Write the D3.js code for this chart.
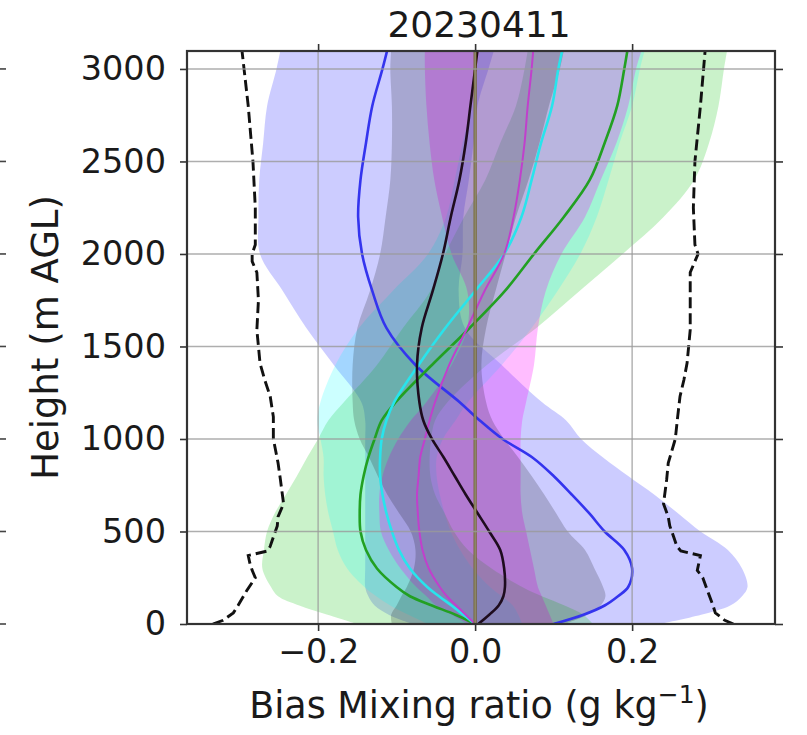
<!DOCTYPE html>
<html>
<head>
<meta charset="utf-8">
<script src="https://cdn.jsdelivr.net/npm/d3@7"></script>
<style>
  html, body { margin: 0; padding: 0; background: #ffffff; }
  svg { display: block; }
  text { font-family: "DejaVu Sans", sans-serif; fill: #1a1a1a; }
</style>
</head>
<body>
<svg id="chart" width="807" height="735"></svg>
<script>
// ---------------- data ----------------
const title = "20230411";
const xLabel = "Bias Mixing ratio (g kg";
const yLabel = "Height (m AGL)";
const xTicks = [-0.2, 0.0, 0.2];
const yTicks = [0, 500, 1000, 1500, 2000, 2500, 3000];

const heights = [0, 50, 100, 150, 200, 300, 400, 500, 600, 700, 800, 900, 1000, 1100, 1200, 1400, 1600, 1800, 2000, 2200, 2400, 2600, 2800, 3000, 3100];

const blueMean  = [0.100, 0.138, 0.165, 0.182, 0.195, 0.200, 0.190, 0.165, 0.145, 0.123, 0.100, 0.073, 0.035, 0.006, -0.020, -0.076, -0.113, -0.131, -0.144, -0.149, -0.146, -0.139, -0.131, -0.118, -0.112];
const blueLow   = [-0.080, -0.110, -0.128, -0.136, -0.140, -0.140, -0.140, -0.140, -0.140, -0.140, -0.140, -0.140, -0.140, -0.140, -0.145, -0.180, -0.215, -0.245, -0.274, -0.276, -0.275, -0.270, -0.265, -0.253, -0.248];
const blueHigh  = [0.235, 0.288, 0.325, 0.340, 0.347, 0.340, 0.322, 0.287, 0.258, 0.228, 0.195, 0.163, 0.135, 0.116, 0.085, 0.034, -0.013, -0.021, -0.016, -0.015, -0.008, -0.002, 0.003, 0.017, 0.024];

const greenMean = [0.000, -0.025, -0.055, -0.083, -0.100, -0.125, -0.139, -0.146, -0.147, -0.146, -0.142, -0.136, -0.128, -0.119, -0.101, -0.055, -0.007, 0.038, 0.075, 0.113, 0.146, 0.165, 0.181, 0.190, 0.194];
const greenStd  = [0.150, 0.163, 0.169, 0.168, 0.160, 0.146, 0.130, 0.119, 0.108, 0.095, 0.085, 0.078, 0.072, 0.068, 0.066, 0.070, 0.085, 0.095, 0.113, 0.127, 0.133, 0.133, 0.129, 0.127, 0.127];

const cyanMean  = [0.000, -0.015, -0.030, -0.046, -0.061, -0.083, -0.097, -0.106, -0.113, -0.118, -0.121, -0.121, -0.119, -0.113, -0.103, -0.072, -0.038, 0.000, 0.037, 0.059, 0.072, 0.084, 0.098, 0.106, 0.111];
const cyanStd   = [0.060, 0.070, 0.078, 0.080, 0.080, 0.080, 0.078, 0.075, 0.074, 0.073, 0.072, 0.072, 0.078, 0.088, 0.094, 0.106, 0.110, 0.105, 0.097, 0.096, 0.098, 0.100, 0.102, 0.104, 0.105];

const magentaMean = [0.000, -0.012, -0.024, -0.036, -0.045, -0.059, -0.067, -0.071, -0.073, -0.074, -0.072, -0.070, -0.064, -0.058, -0.051, -0.033, -0.010, 0.012, 0.037, 0.049, 0.057, 0.063, 0.067, 0.072, 0.074];
const magentaLow  = [-0.010, -0.030, -0.050, -0.062, -0.075, -0.095, -0.110, -0.120, -0.122, -0.122, -0.118, -0.110, -0.098, -0.082, -0.062, -0.030, -0.010, -0.010, -0.030, -0.042, -0.052, -0.058, -0.062, -0.064, -0.064];
const magentaHigh = [0.100, 0.095, 0.090, 0.085, 0.080, 0.075, 0.070, 0.065, 0.060, 0.058, 0.058, 0.058, 0.058, 0.060, 0.065, 0.075, 0.080, 0.090, 0.110, 0.140, 0.160, 0.180, 0.195, 0.205, 0.212];

const blackMean = [0.004, 0.018, 0.030, 0.036, 0.038, 0.037, 0.032, 0.018, 0.003, -0.012, -0.026, -0.040, -0.055, -0.066, -0.071, -0.074, -0.068, -0.054, -0.041, -0.031, -0.020, -0.012, -0.006, 0.000, 0.003];
const blackStd  = [0.110, 0.125, 0.130, 0.130, 0.125, 0.115, 0.108, 0.100, 0.100, 0.100, 0.098, 0.095, 0.092, 0.088, 0.085, 0.082, 0.082, 0.080, 0.080, 0.083, 0.088, 0.094, 0.100, 0.108, 0.110];

const dashHeights = [0, 20, 60, 100, 180, 250, 290, 330, 370, 395, 420, 470, 530, 580, 650, 780, 870, 1000, 1120, 1230, 1320, 1410, 1590, 1750, 1900, 1960, 2000, 2050, 2250, 2500, 2800, 3100];
const dashLeft  = [-0.334, -0.321, -0.308, -0.302, -0.291, -0.280, -0.284, -0.287, -0.289, -0.264, -0.261, -0.257, -0.252, -0.251, -0.244, -0.248, -0.251, -0.257, -0.257, -0.261, -0.268, -0.274, -0.278, -0.276, -0.278, -0.284, -0.284, -0.280, -0.280, -0.283, -0.289, -0.297];
const dashRight = [0.329, 0.318, 0.306, 0.303, 0.296, 0.290, 0.283, 0.285, 0.287, 0.262, 0.257, 0.253, 0.248, 0.246, 0.240, 0.244, 0.246, 0.255, 0.258, 0.261, 0.266, 0.270, 0.274, 0.274, 0.274, 0.280, 0.284, 0.280, 0.278, 0.280, 0.287, 0.293];

const refHeights = [0, 3100];
const refValues = [0, 0];

const series = [
  { name: "blue",    mean: blueMean,    lo: blueLow, hi: blueHigh, line: "#3434ee", fill: "#0000ff", op: 0.20, lw: 2.6 },
  { name: "green",   mean: greenMean,   lo: greenMean.map((m, i) => m - greenStd[i]), hi: greenMean.map((m, i) => m + greenStd[i]), line: "#22a022", fill: "#32cd32", op: 0.26, lw: 2.6 },
  { name: "cyan",    mean: cyanMean,    lo: cyanMean.map((m, i) => m - cyanStd[i]),   hi: cyanMean.map((m, i) => m + cyanStd[i]),   line: "#28e4ec", fill: "#00ffff", op: 0.20, lw: 2.6 },
  { name: "magenta", mean: magentaMean, lo: magentaLow, hi: magentaHigh, line: "#c040cc", fill: "#ff00ff", op: 0.26, lw: 2.0 },
  { name: "black",   mean: blackMean,   lo: blackMean.map((m, i) => m - blackStd[i]), hi: blackMean.map((m, i) => m + blackStd[i]), line: "#1e0c1e", fill: "#000000", op: 0.18, lw: 2.6 }
];

// ---------------- layout ----------------
const svg = d3.select("#chart");
const L = 187, R = 775, T = 51, B = 624;
const x = d3.scaleLinear().domain([-0.367, 0.382]).range([L, R]);
const y = d3.scaleLinear().domain([0, 3097]).range([B, T]);

svg.append("defs").append("clipPath").attr("id", "clip")
  .append("rect").attr("x", L).attr("y", T).attr("width", R - L).attr("height", B - T);

const plot = svg.append("g").attr("clip-path", "url(#clip)");
const curve = d3.curveCatmullRom.alpha(0.5);

// bands
series.forEach(s => {
  const pts = heights.map((h, i) => ({ h, lo: s.lo[i], hi: s.hi[i] }));
  const area = d3.area()
    .y(d => y(d.h))
    .x0(d => x(d.lo))
    .x1(d => x(d.hi))
    .curve(curve);
  plot.append("path").datum(pts)
    .attr("d", area)
    .attr("fill", s.fill)
    .attr("fill-opacity", s.op)
    .attr("stroke", "none");
});

// grid
const grid = svg.append("g");
xTicks.forEach(t => {
  grid.append("line").attr("x1", x(t)).attr("x2", x(t)).attr("y1", T).attr("y2", B)
    .attr("stroke", "#9a9a9a").attr("stroke-width", 1.4).attr("stroke-opacity", 0.8);
});
yTicks.forEach(t => {
  grid.append("line").attr("x1", L).attr("x2", R).attr("y1", y(t)).attr("y2", y(t))
    .attr("stroke", "#9a9a9a").attr("stroke-width", 1.4).attr("stroke-opacity", 0.8);
});

// mean lines
series.forEach(s => {
  const pts = heights.map((h, i) => ({ h, v: s.mean[i] }));
  const line = d3.line().x(d => x(d.v)).y(d => y(d.h)).curve(curve);
  plot.append("path").datum(pts)
    .attr("d", line)
    .attr("fill", "none")
    .attr("stroke", s.line)
    .attr("stroke-width", s.lw)
    .attr("stroke-linejoin", "round");
});

// dashed limits
[dashLeft, dashRight].forEach(arr => {
  const pts = dashHeights.map((h, i) => ({ h, v: arr[i] }));
  const line = d3.line().x(d => x(d.v)).y(d => y(d.h));
  plot.append("path").datum(pts)
    .attr("d", line)
    .attr("fill", "none")
    .attr("stroke", "#111111")
    .attr("stroke-width", 2.9)
    .attr("stroke-dasharray", "11,5");
});

// zero reference line
{
  const pts = refHeights.map((h, i) => ({ h, v: refValues[i] }));
  const line = d3.line().x(d => x(d.v)).y(d => y(d.h));
  plot.append("path").datum(pts)
    .attr("d", line)
    .attr("fill", "none")
    .attr("stroke", "#70601a")
    .attr("stroke-width", 3);
}

// frame
svg.append("rect").attr("x", L).attr("y", T).attr("width", R - L).attr("height", B - T)
  .attr("fill", "none").attr("stroke", "#333333").attr("stroke-width", 2.2);

// axes
const fs = 33.5;
const axB = svg.append("g").attr("transform", `translate(0,${B})`)
  .call(d3.axisBottom(x).tickValues(xTicks).tickSize(7).tickPadding(9)
    .tickFormat(d => d3.format(".1f")(d).replace("-", "\u2212")));
const axL = svg.append("g").attr("transform", `translate(${L},0)`)
  .call(d3.axisLeft(y).tickValues(yTicks).tickSize(7).tickPadding(14).tickFormat(d3.format("d")));
const axT = svg.append("g").attr("transform", `translate(0,${T})`)
  .call(d3.axisTop(x).tickValues(xTicks).tickSize(7).tickFormat(""));
const axR = svg.append("g").attr("transform", `translate(${R},0)`)
  .call(d3.axisRight(y).tickValues(yTicks).tickSize(8).tickFormat(""));
[axB, axL, axT, axR].forEach(a => {
  a.select(".domain").remove();
  a.selectAll(".tick line").attr("stroke", "#333").attr("stroke-width", 1.6);
  a.selectAll("text").style("font-family", "DejaVu Sans").style("font-size", fs + "px").attr("fill", "#1a1a1a");
});
axB.selectAll("text").attr("dy", "0.68em");

// neighbouring panel's tick marks at far left edge
yTicks.forEach(t => {
  svg.append("line").attr("x1", 0).attr("x2", 6).attr("y1", y(t)).attr("y2", y(t))
    .attr("stroke", "#444").attr("stroke-width", 1.6);
});

// title
svg.append("text").attr("x", (L + R) / 2 - 2).attr("y", 37).attr("text-anchor", "middle")
  .style("font-size", "36px").text(title);

// x label with superscript
const xl = svg.append("text").attr("x", (L + R) / 2 - 2).attr("y", 718).attr("text-anchor", "middle")
  .style("font-size", "36.5px");
xl.append("tspan").text(xLabel);
xl.append("tspan").attr("dy", -15).style("font-size", "25px").text("\u22121");
xl.append("tspan").attr("dy", 15).text(")");

// y label
svg.append("text").attr("transform", `translate(58,${(T + B) / 2}) rotate(-90)`)
  .attr("text-anchor", "middle").style("font-size", "37px").text(yLabel);
</script>
</body>
</html>
